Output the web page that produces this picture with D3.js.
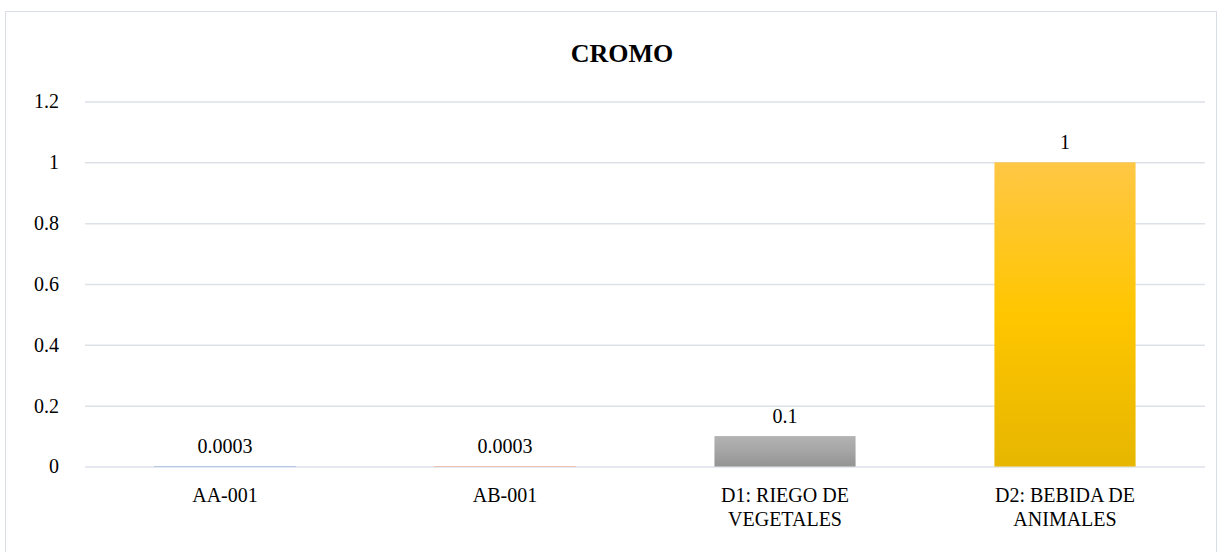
<!DOCTYPE html>
<html>
<head>
<meta charset="utf-8">
<script src="https://cdn.jsdelivr.net/npm/d3@7"></script>
</head>
<body style="margin:0;background:#fff">
<svg id="chart" width="1221" height="552"></svg>
<script>
// Chromium concentration by sample / reference limit
const categories = ["AA-001", "AB-001", "D1: RIEGO DE VEGETALES", "D2: BEBIDA DE ANIMALES"];
const categoryLines = [["AA-001"], ["AB-001"], ["D1: RIEGO DE", "VEGETALES"], ["D2: BEBIDA DE", "ANIMALES"]];
const values = [0.0003, 0.0003, 0.1, 1];
const valueLabels = ["0.0003", "0.0003", "0.1", "1"];
const yTicks = [0, 0.2, 0.4, 0.6, 0.8, 1, 1.2];
const title = "CROMO";

const FONT = "'Liberation Serif'";
const serif = sel => sel.style("font-family", FONT, "important");

const svg = d3.select("#chart");
const margin = { left: 85, right: 16, top: 101.5, bottom: 85.5 };
const W = 1221, H = 552;

// chart frame
svg.append("rect")
  .attr("x", 5.5).attr("y", 11.5)
  .attr("width", 1211).attr("height", 545)
  .attr("fill", "#fff").attr("stroke", "#d9dde6").attr("stroke-width", 1);

const x = d3.scaleBand().domain(categories)
  .range([margin.left, W - margin.right]).paddingInner(0.496).paddingOuter(0.248);
const y = d3.scaleLinear().domain([0, 1.2]).range([H - margin.bottom, margin.top]);

// gradients
const defs = svg.append("defs");
const grads = [
  { id: "gA", stops: ["#c3d5ec", "#a9c2e4", "#94b3dc"] },
  { id: "gB", stops: ["#f2cdbb", "#edbba3", "#e6a98c"] },
  { id: "gC", stops: ["#b3b3b3", "#a5a5a5", "#939393"] },
  { id: "gD", stops: ["#ffc745", "#ffc600", "#e6b600"] }
];
grads.forEach(g => {
  const lg = defs.append("linearGradient").attr("id", g.id)
    .attr("x1", 0).attr("y1", 0).attr("x2", 0).attr("y2", 1);
  g.stops.forEach((c, i) => lg.append("stop").attr("offset", (i / 2)).attr("stop-color", c));
});

// gridlines and y tick labels
const yAxis = d3.axisLeft(y).tickValues(yTicks).tickSize(-(W - margin.left - margin.right))
  .tickFormat(d => String(d)).tickPadding(26);
const ga = svg.append("g").attr("transform", `translate(${margin.left},0)`).call(yAxis);
ga.select(".domain").remove();
ga.selectAll(".tick line").attr("stroke", "#dde1e8").attr("stroke-width", 1.5);
ga.selectAll(".tick text").attr("fill", "#000").style("font-size", "20px").call(serif);

// bars
const bars = svg.append("g");
values.forEach((v, i) => {
  const bx = x(categories[i]);
  const by = y(v);
  const bh = y(0) - y(v);
  bars.append("rect")
    .attr("x", bx).attr("y", by)
    .attr("width", x.bandwidth()).attr("height", bh)
    .attr("fill", `url(#${grads[i].id})`)
    .attr("stroke", bh < 2 ? grads[i].stops[1] : "none")
    .attr("stroke-width", bh < 2 ? 0.8 : 0);
});

// value labels
svg.append("g").selectAll("text").data(values).join("text")
  .attr("x", (d, i) => x(categories[i]) + x.bandwidth() / 2)
  .attr("y", d => y(d) - 13)
  .attr("text-anchor", "middle")
  .style("font-size", "20px").call(serif)
  .text((d, i) => valueLabels[i]);

// category labels
const cl = svg.append("g");
categoryLines.forEach((lines, i) => {
  const cx = x(categories[i]) + x.bandwidth() / 2;
  const t = cl.append("text")
    .attr("x", cx).attr("y", 502).attr("text-anchor", "middle")
    .style("font-size", "20px").call(serif);
  lines.forEach((ln, j) => t.append("tspan")
    .attr("x", cx).attr("dy", j === 0 ? 0 : 24).call(serif).text(ln));
});

// title
svg.append("text").attr("x", 622).attr("y", 62).attr("text-anchor", "middle")
  .style("font-size", "26px").style("font-weight", "bold").call(serif)
  .text(title);
</script>
</body>
</html>
